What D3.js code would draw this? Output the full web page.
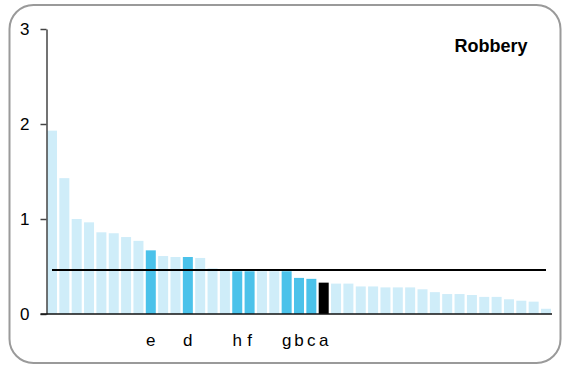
<!DOCTYPE html>
<html>
<head>
<meta charset="utf-8">
<script src="https://cdn.jsdelivr.net/npm/d3@7"></script>
<style>
  body { margin: 0; background: #fff; }
  text { font-family: "Liberation Sans", Arial, sans-serif; }
</style>
</head>
<body>
<div id="chart"></div>
<script>
// Data
const values = [1.93, 1.43, 1.00, 0.965, 0.86, 0.85, 0.81, 0.77, 0.67, 0.61, 0.60,
  0.60, 0.59, 0.48, 0.46, 0.45, 0.45, 0.45, 0.45, 0.45, 0.38, 0.37, 0.33,
  0.32, 0.32, 0.29, 0.29, 0.28, 0.28, 0.28, 0.26, 0.23, 0.21, 0.21, 0.20,
  0.18, 0.18, 0.155, 0.14, 0.13, 0.055];
const labels = ["", "", "", "", "", "", "", "", "e", "", "",
  "d", "", "", "", "h", "f", "", "", "g", "b", "c", "a",
  "", "", "", "", "", "", "", "", "", "", "", "",
  "", "", "", "", "", ""];
// 0 = other, 1 = highlighted, 2 = selected
const groups = [0, 0, 0, 0, 0, 0, 0, 0, 1, 0, 0,
  1, 0, 0, 0, 1, 1, 0, 0, 1, 1, 1, 2,
  0, 0, 0, 0, 0, 0, 0, 0, 0, 0, 0, 0,
  0, 0, 0, 0, 0, 0];
const average = 0.463;
const yTicks = [0, 1, 2, 3];
const title = "Robbery";

const W = 563, H = 366;
const colors = ["#cfedf9", "#4bc2ea", "#000000"];

const svg = d3.select("#chart")
    .append("svg")
    .attr("width", W)
    .attr("height", H);

// Rounded frame
svg.append("rect")
    .attr("x", 9.5)
    .attr("y", 5)
    .attr("width", 551)
    .attr("height", 358)
    .attr("rx", 24)
    .attr("ry", 24)
    .style("fill", "none")
    .style("stroke", "#9a9a9a")
    .style("stroke-width", 2);

const idx = d3.range(values.length);

const x = d3.scaleBand()
    .domain(idx)
    .range([46, 552])
    .paddingInner(0.19)
    .paddingOuter(0.08);

const y = d3.scaleLinear()
    .domain([0, 3])
    .range([314, 29]);

// Bars
svg.selectAll(".bar")
    .data(idx)
    .enter().append("rect")
    .attr("class", "bar")
    .attr("x", i => x(i))
    .attr("y", i => y(values[i]))
    .attr("width", x.bandwidth())
    .attr("height", i => y(0) - y(values[i]))
    .style("fill", i => colors[groups[i]]);

// Average line
svg.append("line")
    .attr("x1", 52)
    .attr("x2", 546)
    .attr("y1", y(average))
    .attr("y2", y(average))
    .style("stroke", "#000")
    .style("stroke-width", 2);

// Y axis
const yAxis = svg.append("g")
    .attr("transform", "translate(46.5,0)")
    .call(d3.axisLeft(y).tickValues(yTicks).tickFormat(d3.format("d")).tickSize(6).tickSizeOuter(0).tickPadding(11));
yAxis.select(".domain").style("stroke", "#444").style("stroke-width", 1.5);
yAxis.selectAll(".tick line").style("stroke", "#444").style("stroke-width", 1.5);
yAxis.selectAll("text")
    .style("font-size", "17px")
    .style("fill", "#000");

// Baseline
svg.append("line")
    .attr("x1", 40.5)
    .attr("x2", 552)
    .attr("y1", y(0))
    .attr("y2", y(0))
    .style("stroke", "#111")
    .style("stroke-width", 1.5);

// Category labels
svg.selectAll(".cat")
    .data(idx.filter(i => labels[i] !== ""))
    .enter().append("text")
    .attr("class", "cat")
    .attr("x", i => x(i) + x.bandwidth() / 2)
    .attr("y", 346)
    .attr("text-anchor", "middle")
    .style("font-size", "17px")
    .text(i => labels[i]);

// Title
svg.append("text")
    .attr("x", 491)
    .attr("y", 52)
    .attr("text-anchor", "middle")
    .style("font-size", "18px")
    .style("font-weight", "bold")
    .text(title);
</script>
</body>
</html>
